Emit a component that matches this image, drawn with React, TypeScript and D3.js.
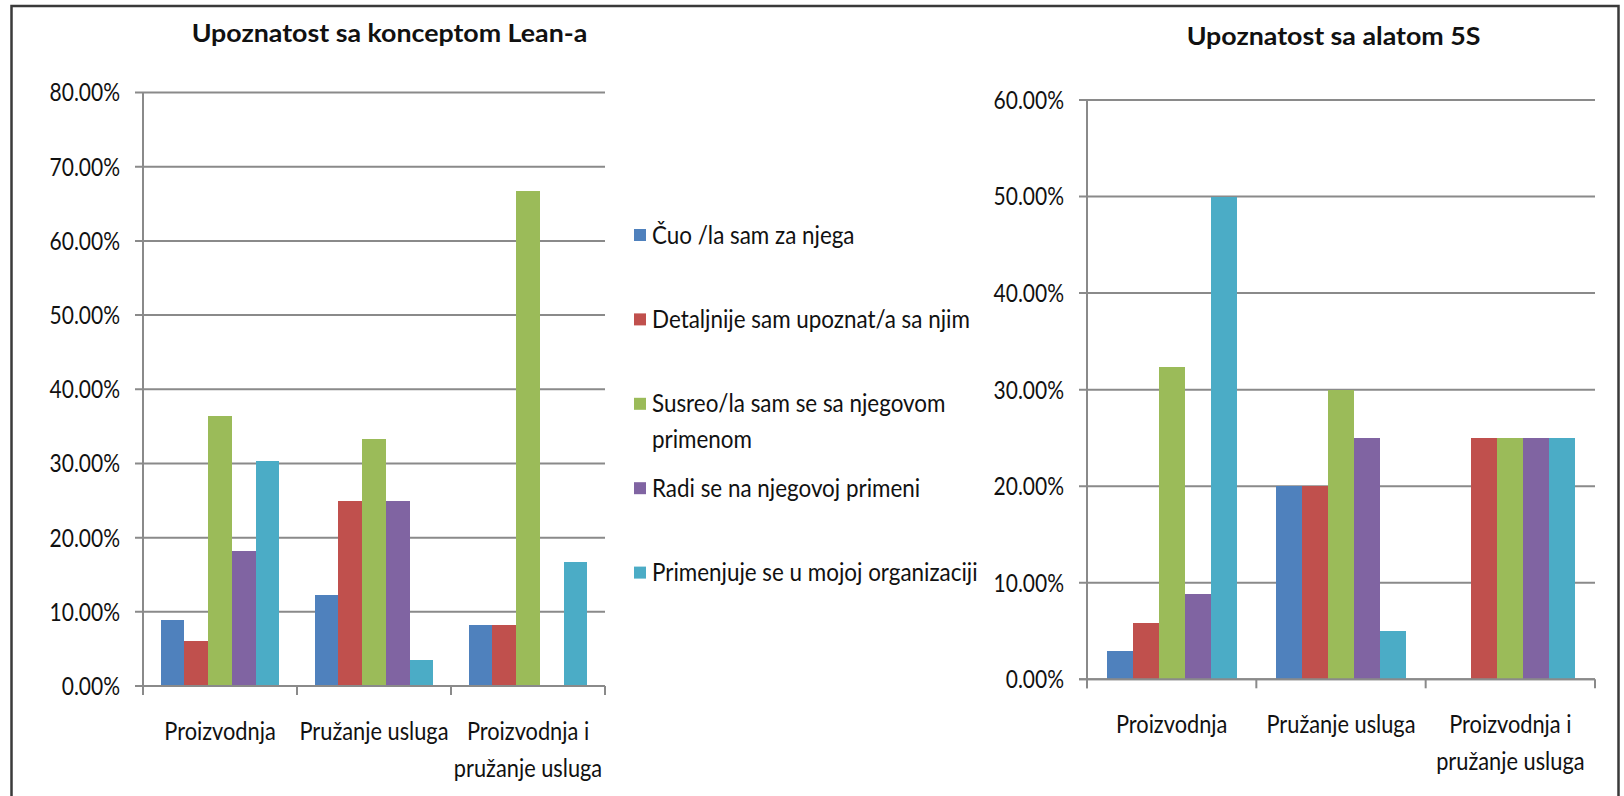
import React from 'react';
import * as d3 from 'd3';

// categories on the x axis (same for both charts)
const categories = ['Proizvodnja', 'Pružanje usluga', 'Proizvodnja i pružanje usluga'];
const categoryLines = [['Proizvodnja'], ['Pružanje usluga'], ['Proizvodnja i', 'pružanje usluga']];

// series / legend
const seriesNames = [
    'Čuo /la sam za njega',
    'Detaljnije sam upoznat/a sa njim',
    'Susreo/la sam se sa njegovom primenom',
    'Radi se na njegovoj primeni',
    'Primenjuje se u mojoj organizaciji',
];
const legendLines = [
    ['Čuo /la sam za njega'],
    ['Detaljnije sam upoznat/a sa njim'],
    ['Susreo/la sam se sa njegovom', 'primenom'],
    ['Radi se na njegovoj primeni'],
    ['Primenjuje se u mojoj organizaciji'],
];
const colors = ['#4F81BD', '#C0504D', '#9BBB59', '#8064A2', '#4BACC6'];

// values in % : one row per category, one entry per series
const leanProizvodnja = [8.9, 6.0, 36.4, 18.2, 30.3];
const leanUsluge = [12.3, 25.0, 33.3, 25.0, 3.5];
const leanOboje = [8.2, 8.2, 66.7, 0, 16.7];

const fiveSProizvodnja = [2.9, 5.8, 32.3, 8.8, 50.0];
const fiveSUsluge = [20.0, 20.0, 30.0, 25.0, 5.0];
const fiveSOboje = [0, 25.0, 25.0, 25.0, 25.0];

const leanTicks = [0, 10, 20, 30, 40, 50, 60, 70, 80];
const fiveSTicks = [0, 10, 20, 30, 40, 50, 60];

const FONT = 'Lato, "Open Sans", sans-serif';
const GRID = '#8a8a8a';

const pct = (d) => d3.format('.2f')(d) + '%';

const SText = ({ x, y, sx = 1, size, anchor = 'start', weight = 400, dy = 0, children }) => (
    <text
        transform={`translate(${x},${y}) scale(${sx},1)`}
        textAnchor={anchor}
        dy={dy}
        fontSize={size}
        fontWeight={weight}
        fontFamily={FONT}
        fill="#111"
    >
        {children}
    </text>
);

const BarChart = ({ title, titleX, titleY, rows, ticks, x0, x1, y0, y1, labelRight }) => {
    const x = d3.scaleBand().domain(categories).range([x0, x1]);
    const inner = d3.scaleBand()
        .domain(d3.range(seriesNames.length))
        .range([0, x.bandwidth()])
        .paddingOuter(0.75);
    const y = d3.scaleLinear().domain([0, d3.max(ticks)]).range([y0, y1]);

    return (
        <g>
            <SText x={titleX} y={titleY} size={25.5} weight={700} anchor="middle" sx={1.05}>{title}</SText>

            {/* gridlines + y labels */}
            {ticks.map(t => (
                <g key={t}>
                    <line x1={x0 - 8} x2={x1} y1={y(t)} y2={y(t)} stroke={GRID} strokeWidth={2} />
                    <SText x={labelRight} y={y(t)} size={24.7} anchor="end" dy="0.36em" sx={0.85}>{pct(t)}</SText>
                </g>
            ))}

            {/* bars */}
            {rows.map((vals, ci) => vals.map((v, si) => (
                <rect
                    key={ci + '-' + si}
                    x={x(categories[ci]) + inner(si)}
                    y={y(v)}
                    width={inner.bandwidth()}
                    height={y0 - y(v)}
                    fill={colors[si]}
                    shapeRendering="crispEdges"
                />
            )))}

            {/* axes */}
            <line x1={x0} x2={x0} y1={y1} y2={y0 + 9} stroke={GRID} strokeWidth={2} />
            <line x1={x0 - 8} x2={x1} y1={y0} y2={y0} stroke={GRID} strokeWidth={2} />
            {[...categories.map(c => x(c)), x1].map((tx, i) => (
                <line key={i} x1={tx} x2={tx} y1={y0} y2={y0 + 9} stroke={GRID} strokeWidth={2} />
            ))}

            {/* category labels */}
            {categories.map((c, ci) => categoryLines[ci].map((ln, li) => (
                <SText key={c + li} x={x(c) + x.bandwidth() / 2} y={y0 + 54 + li * 37} size={24.2} anchor="middle" sx={0.9}>{ln}</SText>
            )))}
        </g>
    );
};

const Legend = ({ x, y, step }) => (
    <g>
        {legendLines.map((lines, i) => (
            <g key={i}>
                <rect x={x} y={y + i * step - 6} width={12} height={12} fill={colors[i]} />
                {lines.map((ln, li) => (
                    <SText key={li} x={x + 18} y={y + i * step + 8.5 + li * 35.5} size={24.5} sx={0.915}>{ln}</SText>
                ))}
            </g>
        ))}
    </g>
);

export default function App() {
    return (
        <div style={{ position: 'absolute', left: 0, top: 0 }}>
            <svg width={1624} height={796} style={{ display: 'block', background: '#fff' }}>
                <rect x={11.5} y={6} width={1607} height={800} fill="none" stroke="#3a3a3a" strokeWidth={2.5} />
                <BarChart
                    title="Upoznatost sa konceptom Lean-a"
                    titleX={389.5}
                    titleY={41.5}
                    rows={[leanProizvodnja, leanUsluge, leanOboje]}
                    ticks={leanTicks}
                    x0={143} x1={605} y0={686} y1={92.5}
                    labelRight={120}
                />
                <Legend x={634} y={235} step={84.4} />
                <BarChart
                    title="Upoznatost sa alatom 5S"
                    titleX={1333.5}
                    titleY={45}
                    rows={[fiveSProizvodnja, fiveSUsluge, fiveSOboje]}
                    ticks={fiveSTicks}
                    x0={1087} x1={1595} y0={679.3} y1={100}
                    labelRight={1064}
                />
            </svg>
        </div>
    );
}
